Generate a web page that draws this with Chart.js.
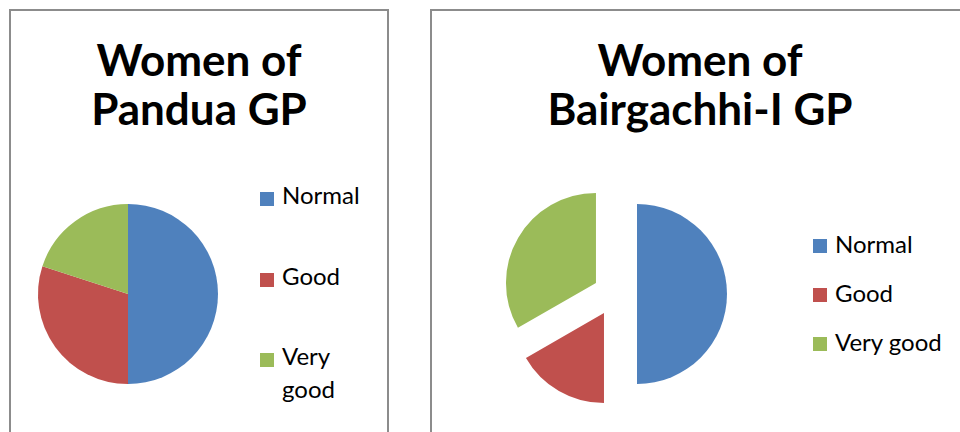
<!DOCTYPE html>
<html>
<head>
<meta charset="utf-8">
<script src="https://cdn.jsdelivr.net/npm/chart.js@4.4.1/dist/chart.umd.min.js"></script>
<style>
body { margin:0; width:960px; height:432px; background:#fff; overflow:hidden; position:relative; font-family: Lato, "Open Sans", sans-serif; }
.panel { position:absolute; top:9px; height:440px; border:2px solid #8c8c8c; box-sizing:border-box; }
.title { position:absolute; top:35px; font-weight:bold; font-size:44px; line-height:49px; text-align:center; color:#000; white-space:nowrap; }
.item { position:absolute; font-size:24px; color:#000; }
.box { position:absolute; width:14px; height:14px; }
canvas { position:absolute; }
</style>
</head>
<body>
<div class="panel" style="left:9px;width:380px"></div>
<div class="panel" style="left:430px;width:540px"></div>
<div class="title" id="title1" style="left:9px;width:380px"></div>
<div class="title" id="title2" style="left:430px;width:540px"></div>
<canvas id="pie1" width="240" height="240" style="left:8px;top:174px"></canvas>
<canvas id="pie2" width="260" height="260" style="left:485px;top:164px"></canvas>
<div id="legend1"></div>
<div id="legend2"></div>
<script>
const categories = ['Normal', 'Good', 'Very good']
const panduaValues = [50, 30, 20]
const bairgachhiValues = [50, 16.7, 33.3]
const panduaTitle = ['Women of', 'Pandua GP']
const bairgachhiTitle = ['Women of', 'Bairgachhi-I GP']
const colors = ['#4F81BD', '#C0504D', '#9BBB59']

const pieRadius = 90

document.querySelector('#title1').innerHTML = panduaTitle.join('<br>')
document.querySelector('#title2').innerHTML = bairgachhiTitle.join('<br>')

// legend built from the same labels / colours
function makeLegend(el, x, tops, lineHeight, textWidth) {
    categories.forEach((label, i) => {
        let item = document.createElement('div')
        item.className = 'item'
        item.style.left = x + 'px'
        item.style.top = tops[i] + 'px'
        item.style.lineHeight = lineHeight + 'px'
        item.style.paddingLeft = '22px'
        item.style.width = textWidth + 'px'
        let box = document.createElement('span')
        box.className = 'box'
        box.style.left = '0px'
        box.style.top = (lineHeight - 14 - 5) + 'px'
        box.style.background = colors[i]
        item.appendChild(box)
        item.appendChild(document.createTextNode(label))
        el.appendChild(item)
    })
}
makeLegend(document.querySelector('#legend1'), 260, [178, 259, 339], 33, 80)
makeLegend(document.querySelector('#legend2'), 813, [229, 278, 327], 29, 140)

// Chart.js grows an offset slice's radius and trims its angle,
// so undo both and keep a plain exploded slice
const keepRadius = {
    id: 'keepRadius',
    afterDatasetsUpdate(chart) {
        chart.getDatasetMeta(0).data.forEach(arc => {
            let off = (arc.options.offset || 0) / 4
            if (!off) return
            let fix = 1 - Math.sin(Math.min(Math.PI, arc.circumference))
            let grow = off * fix
            arc.outerRadius = pieRadius - grow
            let d = grow / (2 * Math.PI * pieRadius)
            arc.startAngle -= d
            arc.endAngle += d
        })
    }
}

function pieConfig(values, offsets) {
    return {
        type: 'pie',
        data: {
            labels: categories,
            datasets: [{
                data: values,
                backgroundColor: colors,
                borderWidth: 0,
                hoverOffset: 0,
                offset: offsets
            }]
        },
        options: {
            responsive: false,
            animation: false,
            radius: pieRadius,
            events: [],
            plugins: { legend: { display: false }, tooltip: { enabled: false } }
        },
        plugins: [keepRadius]
    }
}

new Chart(document.getElementById('pie1'), pieConfig(panduaValues, 0))
new Chart(document.getElementById('pie2'), pieConfig(bairgachhiValues, 88))
</script>
</body>
</html>
